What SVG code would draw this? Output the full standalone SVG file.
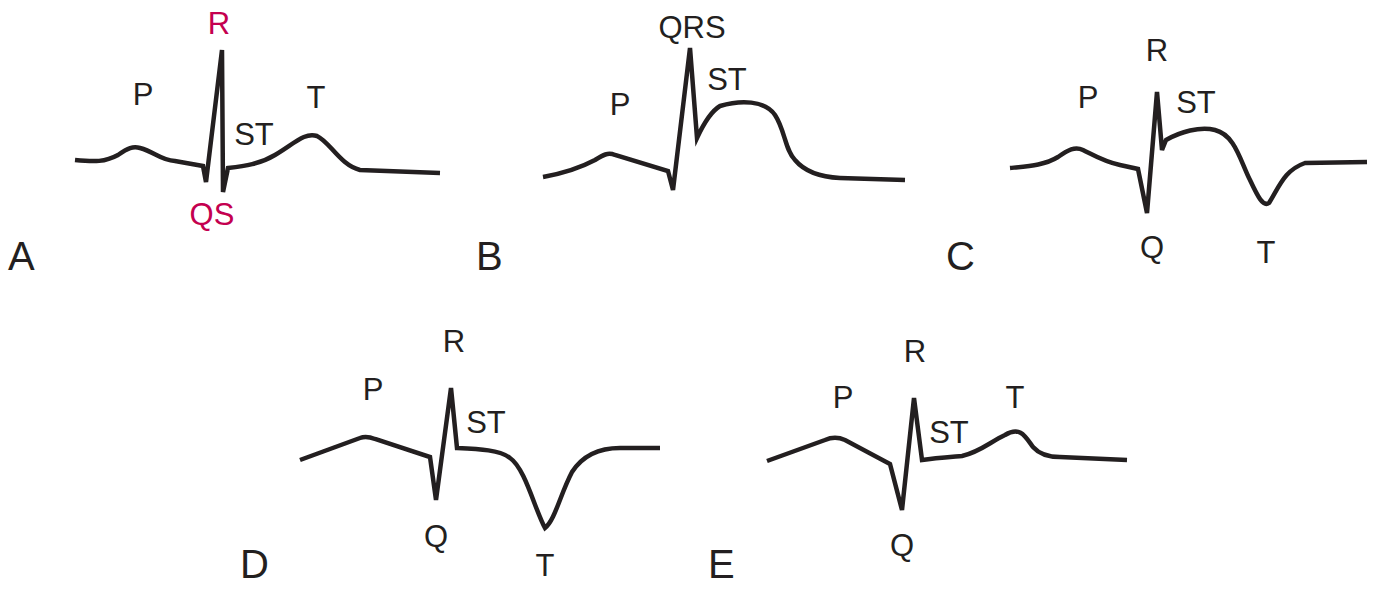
<svg xmlns="http://www.w3.org/2000/svg" width="1389" height="591" viewBox="0 0 1389 591">
<style>
.w{fill:none;stroke:#231f20;stroke-width:4.5;stroke-linejoin:miter;stroke-linecap:butt}
.l{font-family:"Liberation Sans",Arial,sans-serif;font-size:31px;fill:#231f20;text-anchor:middle}
.b{font-family:"Liberation Sans",Arial,sans-serif;font-size:40px;fill:#231f20}
.r{fill:#c4004f}
</style>
<rect width="1389" height="591" fill="#fff"/>
<g id="connectors">
<path class="w" d="M75,160 C95,162 105,162 118,155 C128,148 133,146 140,148 C155,152 160,160 175,161 L203,166 L206,182 L222,50 L223,192 L228,168 C245,166 260,164 275,155 C295,143 305,132 317,136 C330,142 340,165 360,170 L440,173"/>
<path class="w" d="M543,177 C565,173 580,168 595,160 C603,155 608,152 615,155 L668,171 L673,190 L690,48 L697,138 C703,125 710,112 720,106 C740,100 765,100 775,115 C785,130 785,150 795,160 C805,172 820,177 840,178 L905,180"/>
<path class="w" d="M1010,168 C1030,166 1045,165 1058,157 C1068,150 1075,146 1083,150 C1095,156 1105,162 1120,165 L1138,169 L1147,213 L1157,92 L1162,150 L1166,140 C1180,132 1200,126 1215,130 C1235,135 1240,160 1250,180 C1258,197 1263,207 1269,203 C1280,185 1285,170 1305,163 L1367,162"/>
<path class="w" d="M300,460 L360,438 C365,436 370,437 375,439 L430,457 L436,500 L451,388 L457,448 C480,449 500,450 510,458 C525,468 535,510 545,528 C555,520 560,495 572,472 C585,452 605,448 620,448 L660,448"/>
<path class="w" d="M767,461 L825,440 C832,437 838,437 845,440 L890,464 L902,510 L914,398 L922,460 C935,458 950,457 962,456 C980,452 990,442 1005,435 C1020,426 1025,436 1033,447 C1040,455 1050,457 1060,457 L1127,460"/>
</g>
<g id="labels">
<text class="b" x="8" y="270">A</text>
<text class="b" x="476" y="270">B</text>
<text class="b" x="946" y="270">C</text>
<text class="b" x="240" y="578">D</text>
<text class="b" x="708" y="578">E</text>
<text class="l" x="143" y="105">P</text>
<text class="l r" x="219" y="34">R</text>
<text class="l" x="254" y="145">ST</text>
<text class="l" x="316" y="108">T</text>
<text class="l r" x="212" y="225">QS</text>
<text class="l" x="620" y="115">P</text>
<text class="l" x="692" y="38">QRS</text>
<text class="l" x="727" y="90">ST</text>
<text class="l" x="1088" y="108">P</text>
<text class="l" x="1157" y="61">R</text>
<text class="l" x="1196" y="113">ST</text>
<text class="l" x="1152" y="258">Q</text>
<text class="l" x="1266" y="263">T</text>
<text class="l" x="373" y="400">P</text>
<text class="l" x="454" y="352">R</text>
<text class="l" x="486" y="433">ST</text>
<text class="l" x="436" y="547">Q</text>
<text class="l" x="545" y="576">T</text>
<text class="l" x="843" y="408">P</text>
<text class="l" x="915" y="362">R</text>
<text class="l" x="949" y="443">ST</text>
<text class="l" x="1015" y="408">T</text>
<text class="l" x="902" y="556">Q</text>
</g>
</svg>
